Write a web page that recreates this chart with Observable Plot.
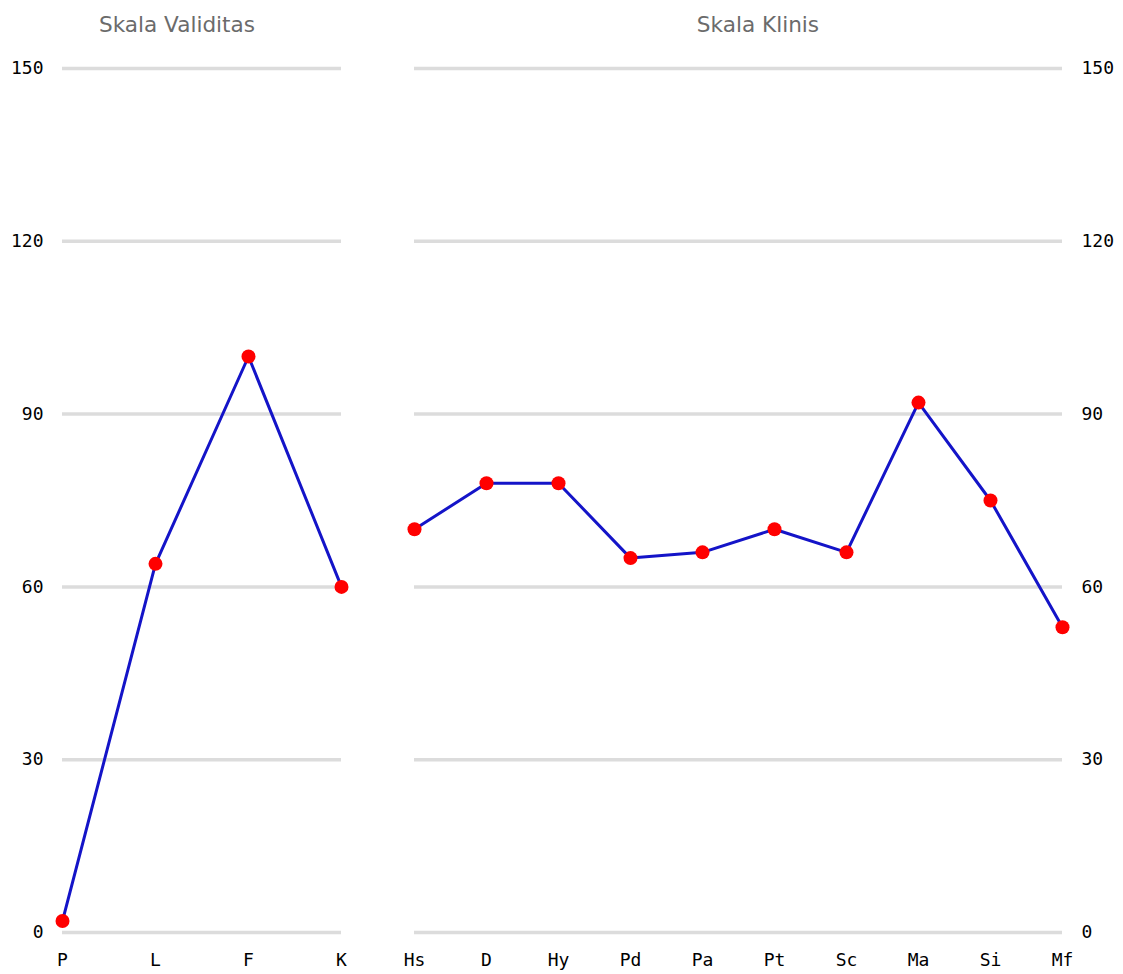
<!DOCTYPE html>
<html>
<head>
<meta charset="utf-8">
<script src="https://cdn.jsdelivr.net/npm/d3@7"></script>
<script src="https://cdn.jsdelivr.net/npm/@observablehq/plot@0.6"></script>
<style>
  html, body { margin: 0; padding: 0; background: #fff; }
  #wrap { position: relative; width: 1123px; height: 974px; }
  .panel { position: absolute; top: 0; }
  .title { position: absolute; top: 12px; font-family: "DejaVu Sans", sans-serif; font-size: 21.6px; line-height: 26px; color: #6b6b6b; transform: translateX(-50%); white-space: nowrap; }
</style>
</head>
<body>
<div id="wrap"></div>
<script>
const validityScales = ["P", "L", "F", "K"];
const validityValues = [2, 64, 100, 60];
const clinicalScales = ["Hs", "D", "Hy", "Pd", "Pa", "Pt", "Sc", "Ma", "Si", "Mf"];
const clinicalValues = [70, 78, 78, 65, 66, 70, 66, 92, 75, 53];
const yTicks = [0, 30, 60, 90, 120, 150];
const titles = ["Skala Validitas", "Skala Klinis"];

const wrap = document.getElementById("wrap");
const H = 974;

function panel(cats, vals, opts) {
  const data = cats.map((c, i) => ({scale: c, value: vals[i]}));
  return Plot.plot({
    width: opts.width,
    height: H,
    marginTop: 68,
    marginBottom: 42,
    marginLeft: opts.ml,
    marginRight: opts.mr,
    style: {fontFamily: "'DejaVu Sans Mono', monospace", fontSize: "18px", color: "#000", background: "transparent"},
    x: {type: "point", domain: cats, padding: 0, label: null},
    y: {domain: [0, 150], label: null},
    marks: [
      Plot.gridY(yTicks, {stroke: "#dcdcdc", strokeOpacity: 1, strokeWidth: 3.5}),
      Plot.axisX({tickSize: 0, tickPadding: 21, label: null, fontSize: 18}),
      Plot.axisY(yTicks, {anchor: opts.yAnchor, tickSize: 0, tickPadding: 19, label: null, fontSize: 18}),
      Plot.line(data, {x: "scale", y: "value", stroke: "#1414c8", strokeWidth: 3}),
      Plot.dot(data, {x: "scale", y: "value", fill: "#ff0000", r: 7, stroke: "none"})
    ]
  });
}

const left = panel(validityScales, validityValues, {width: 380, ml: 62, mr: 39, yAnchor: "left"});
left.classList.add("panel");
left.style.left = "0px";
wrap.appendChild(left);

const right = panel(clinicalScales, clinicalValues, {width: 743, ml: 34, mr: 61, yAnchor: "right"});
right.classList.add("panel");
right.style.left = "380px";
wrap.appendChild(right);

const t1 = document.createElement("div");
t1.className = "title"; t1.textContent = titles[0]; t1.style.left = "177px";
wrap.appendChild(t1);
const t2 = document.createElement("div");
t2.className = "title"; t2.textContent = titles[1]; t2.style.left = "758px";
wrap.appendChild(t2);
</script>
</body>
</html>
